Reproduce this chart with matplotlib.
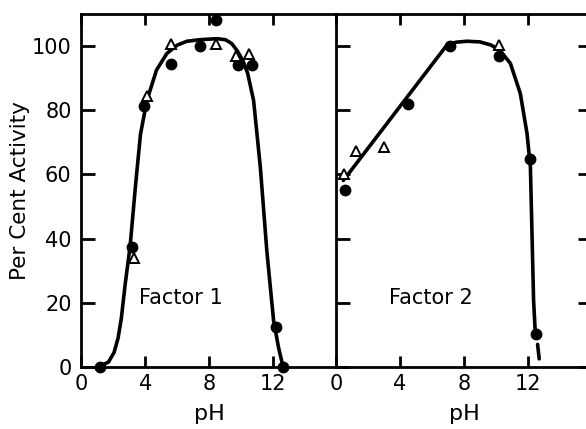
"""
pH activity curves for Factor 1 and Factor 2 (two panels side by side)
"""
import matplotlib
matplotlib.use('Agg')
import matplotlib.pyplot as plt

# ── Factor 1 ────────────────────────────────────────────────────────────────
f1_dot_ph = [1.2, 3.2, 3.9, 5.6, 7.4, 8.4, 9.8, 10.7, 12.2, 12.6]
f1_dot_act = [0, 37.3, 81.2, 94.3, 100, 108, 94, 94, 12.5, 0]
f1_tri_ph = [3.3, 4.1, 5.6, 8.4, 9.7, 10.5]
f1_tri_act = [34, 84.5, 100.8, 100.5, 97, 97.5]
# hand-drawn fitted curve
f1_curve_ph = [1.2, 1.7, 2.05, 2.3, 2.5, 2.75, 3.05, 3.38, 3.7, 4.1, 4.7,
               5.35, 6.0, 6.6, 7.44, 8.48, 9.0, 9.4, 9.75, 10.1, 10.4,
               10.77, 11.19, 11.6, 12.02, 12.33, 12.6]
f1_curve_act = [0.3, 1.5, 4.5, 9, 15, 26, 37.5, 56, 72.5, 83, 92.5,
                97.7, 100.3, 101.5, 102, 102.3, 102, 100.8, 98.5, 95.5, 91.5,
                83, 62.3, 36, 14.4, 6, 0.3]

# ── Factor 2 ────────────────────────────────────────────────────────────────
f2_dot_ph = [0.56, 4.5, 7.1, 10.2, 12.1, 12.5]
f2_dot_act = [55, 81.9, 100, 96.9, 64.9, 10.2]
f2_tri_ph = [0.52, 1.25, 3.0, 10.2]
f2_tri_act = [60.2, 67.3, 68.5, 100.3]
f2_curve_ph = [0.46, 6.93, 7.5, 8.18, 9.0, 9.7, 10.27, 10.9, 11.52, 11.94,
               12.15, 12.25, 12.35, 12.46]
f2_curve_act = [58.1, 100.3, 101.2, 101.5, 101.3, 100.3, 98.5, 94.6, 85.2,
                72.7, 62.3, 41.5, 20.6, 10.2]
f2_tail_ph = [12.6, 12.7]
f2_tail_act = [7, 2.5]

x_ticks = [0, 4, 8, 12]
y_ticks = [0, 20, 40, 60, 80, 100]

plt.rcParams['font.family'] = ['DejaVu Sans']

fig = plt.figure(figsize=(5.86, 4.29), dpi=100)
ax1 = fig.add_axes([0.1387, 0.1448, 256 / 586, 0.8226])
ax2 = fig.add_axes([336 / 586, 0.1448, 256 / 586, 0.8226])

LW = 2.6
for ax in (ax1, ax2):
    ax.set_xlim(0, 16)
    ax.set_ylim(0, 110)
    for sp in ax.spines.values():
        sp.set_linewidth(2.0)
    ax.set_xticks(x_ticks)
    ax.set_yticks(y_ticks)
    ax.tick_params(direction='in', width=2.0, labelsize=15, top=True)
    ax.tick_params(axis='x', length=8, pad=5)
    ax.tick_params(axis='y', length=10, pad=7)
    ax.set_xlabel('pH', fontsize=16, labelpad=7)

# left panel
ax1.tick_params(right=False)
ax1.set_ylabel('Per Cent Activity', fontsize=15.5, labelpad=1)
ax1.plot(f1_curve_ph, f1_curve_act, color='black', lw=LW, zorder=3,
         solid_capstyle='round', solid_joinstyle='round', clip_on=False)
ax1.plot(f1_dot_ph, f1_dot_act, 'o', color='black', ms=7.5, zorder=4,
         clip_on=False)
ax1.plot(f1_tri_ph, f1_tri_act, '^', mfc='white', mec='black', mew=1.4,
         ms=7, zorder=5, clip_on=False)
ax1.text(6.2, 21.5, 'Factor 1', ha='center', va='center', fontsize=15)

# right panel
ax2.tick_params(right=True, labelleft=False)
ax2.plot(f2_curve_ph, f2_curve_act, color='black', lw=LW, zorder=3,
         solid_capstyle='round', solid_joinstyle='round')
ax2.plot(f2_tail_ph, f2_tail_act, color='black', lw=LW, zorder=3,
         solid_capstyle='round')
ax2.plot(f2_dot_ph, f2_dot_act, 'o', color='black', ms=7.5, zorder=4,
         clip_on=False)
ax2.plot(f2_tri_ph, f2_tri_act, '^', mfc='white', mec='black', mew=1.4,
         ms=7, zorder=5, clip_on=False)
ax2.text(5.9, 21.5, 'Factor 2', ha='center', va='center', fontsize=15)

fig.savefig('out.png', dpi=100)
